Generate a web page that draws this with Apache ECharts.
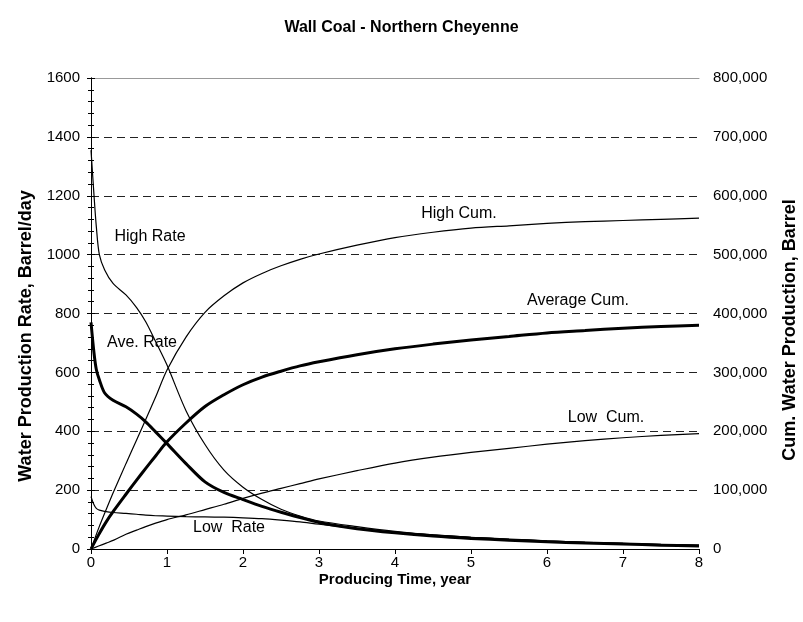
<!DOCTYPE html>
<html>
<head>
<meta charset="utf-8">
<script src="https://cdn.jsdelivr.net/npm/echarts@6/dist/echarts.min.js"></script>
<style>
  html, body { margin: 0; padding: 0; background: #fff; }
  #container { width: 803px; height: 622px; }
</style>
</head>
<body>
<div id="container"></div>
<script>
// 数据 ***********************************************
var rateYears = [0, 0.04, 0.07, 0.11, 0.18, 0.29, 0.46, 0.6, 0.72, 0.85, 1, 1.25, 1.5, 1.75, 2, 2.25, 2.5, 2.75, 3, 3.5, 4, 4.5, 5, 5.5, 6, 6.5, 7, 7.5, 8];
var highRate = [1355, 1200, 1095, 1000, 948, 902, 863, 820, 772, 705, 625, 470, 355, 268, 210, 168, 135, 112, 95, 76, 60, 48, 40, 33, 27, 23, 19, 15, 12];
var aveRate = [770, 665, 610, 575, 530, 505, 483, 458, 432, 398, 358, 290, 228, 192, 168, 145, 125, 107, 90, 69, 55, 44, 36, 30, 25, 20, 17, 13, 10];
var lowRate = [178, 150, 138, 132, 128, 124, 121, 118, 115, 113, 112, 110, 109, 108, 106, 103, 98, 92, 84, 70, 57, 48, 40, 34, 28, 23, 19, 16, 13];

var cumYears = [0, 0.1, 0.2, 0.3, 0.46, 0.6, 0.72, 0.85, 1, 1.25, 1.5, 1.75, 2, 2.25, 2.5, 2.75, 3, 3.5, 4, 4.5, 5, 5.5, 6, 6.5, 7, 7.5, 8];
var highCum = [0, 35000, 67000, 98000, 145000, 185000, 220000, 258000, 304000, 360000, 402000, 430000, 452000, 468000, 481000, 492000, 501000, 516000, 529000, 538000, 545000, 549000, 553000, 556000, 558000, 560000, 562000];
var avgCum = [0, 24000, 46000, 65000, 93000, 117000, 137000, 158000, 182000, 214000, 242000, 262000, 279000, 292000, 302000, 311000, 318000, 330000, 340000, 348000, 355000, 361000, 367000, 371000, 375000, 378000, 380000];
var lowCum = [0, 5000, 10000, 15000, 25000, 32000, 38000, 44000, 50000, 58000, 67000, 76000, 86000, 95000, 103000, 111000, 119000, 133000, 146000, 156000, 164000, 171000, 178000, 184000, 189000, 193000, 196000];

var FONT = 'Liberation Sans, Arial, sans-serif';

function pairs(xs, ys) {
    var out = [];
    for (var i = 0; i < xs.length; i++) {
        out.push([xs[i], ys[i]]);
    }
    return out;
}

function fmtThousands(v) {
    return String(v).replace(/\B(?=(\d{3})+(?!\d))/g, ',');
}

function lineSeries(name, xs, ys, yIndex, width) {
    return {
        name: name,
        type: 'line',
        yAxisIndex: yIndex,
        data: pairs(xs, ys),
        showSymbol: false,
        smooth: 0.3,
        lineStyle: { color: '#000', width: width },
        z: 5
    };
}

function note(text, x, y) {
    return {
        type: 'text', x: x, y: y, z: 10,
        style: { text: text, font: '16px ' + FONT, fill: '#000', align: 'center', verticalAlign: 'middle' }
    };
}

// 坐标轴标题
function axisTitle(text, x, y, size, rot) {
    return {
        type: 'text', x: x, y: y, rotation: rot, z: 10,
        style: { text: text, font: 'bold ' + size + 'px ' + FONT, fill: '#000', align: 'center', verticalAlign: 'middle' }
    };
}

var dom = document.getElementById('container');
var myChart = echarts.init(dom);

var option = {
    animation: false,
    backgroundColor: '#fff',
    textStyle: { fontFamily: FONT },
    title: {
        text: 'Wall Coal - Northern Cheyenne',
        left: 'center',
        top: 15,
        textStyle: { fontSize: 16, fontWeight: 'bold', color: '#000', fontFamily: FONT }
    },
    grid: { left: 91, right: 104, top: 78, bottom: 73 },
    xAxis: [{
        type: 'value',
        min: 0,
        max: 8,
        interval: 1,
        axisLine: { lineStyle: { color: '#000', width: 1 } },
        axisTick: { show: true, length: 5, lineStyle: { color: '#000' } },
        axisLabel: { fontSize: 15, color: '#000', margin: 6, fontFamily: FONT },
        splitLine: { show: false }
    }, {
        type: 'value',
        position: 'top',
        min: 0,
        max: 8,
        axisLine: { show: true, onZero: false, lineStyle: { color: '#999', width: 1 } },
        axisTick: { show: false },
        axisLabel: { show: false },
        splitLine: { show: false }
    }],
    yAxis: [{
        type: 'value',
        min: 0,
        max: 1600,
        interval: 200,
        axisLine: { show: true, lineStyle: { color: '#000' } },
        axisTick: { show: true, length: 4, lineStyle: { color: '#000' } },
        minorTick: { show: true, splitNumber: 5, length: 3, lineStyle: { color: '#000' } },
        axisLabel: {
            fontSize: 15, color: '#000', margin: 11, fontFamily: FONT,
            formatter: function (v) { return String(v); }
        },
        splitLine: { show: true, showMaxLine: false, showMinLine: false, lineStyle: { color: '#222', type: [8, 5], width: 1 } }
    }, {
        type: 'value',
        min: 0,
        max: 800000,
        interval: 100000,
        axisLine: { show: true, lineStyle: { color: '#000' } },
        axisTick: { show: true, length: 4, lineStyle: { color: '#000' } },
        minorTick: { show: true, splitNumber: 5, length: 3, lineStyle: { color: '#000' } },
        axisLabel: {
            fontSize: 15, color: '#000', margin: 14, fontFamily: FONT,
            formatter: function (v) { return fmtThousands(v); }
        },
        splitLine: { show: false }
    }],
    series: [
        lineSeries('High Rate', rateYears, highRate, 0, 1.2),
        lineSeries('Ave. Rate', rateYears, aveRate, 0, 3),
        lineSeries('Low Rate', rateYears, lowRate, 0, 1.2),
        lineSeries('High Cum.', cumYears, highCum, 1, 1.2),
        lineSeries('Average Cum.', cumYears, avgCum, 1, 3),
        lineSeries('Low Cum.', cumYears, lowCum, 1, 1.2)
    ],
    graphic: [
        // 曲线标注
        note('High Rate', 150, 237),
        note('Ave. Rate', 142, 343),
        note('Low  Rate', 229, 528),
        note('High Cum.', 459, 214),
        note('Average Cum.', 578, 301),
        note('Low  Cum.', 606, 418),
        axisTitle('Producing Time, year', 395, 580, 15, 0),
        axisTitle('Water Production Rate, Barrel/day', 26, 336, 18, Math.PI / 2),
        axisTitle('Cum. Water Production, Barrel', 790, 330, 18, Math.PI / 2)
    ]
};

myChart.setOption(option, true);
</script>
</body>
</html>
